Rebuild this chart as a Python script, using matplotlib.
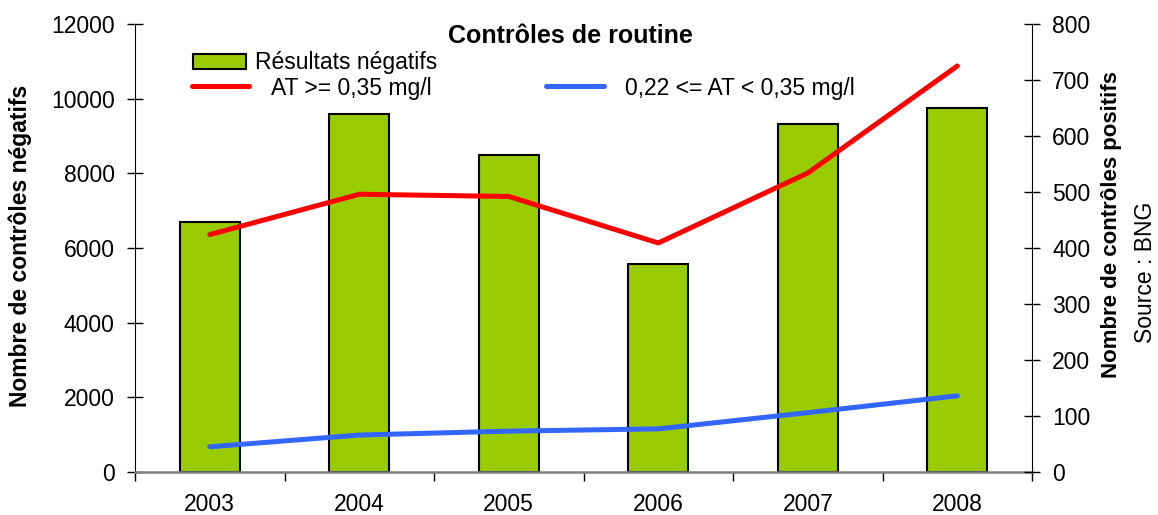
import numpy as np
import matplotlib
matplotlib.use("Agg")
from matplotlib import pyplot as plt
from matplotlib.patches import Patch
from matplotlib.lines import Line2D

years = ["2003", "2004", "2005", "2006", "2007", "2008"]
negatifs = [6700, 9580, 8480, 5560, 9320, 9740]
at_high = [424, 496, 492, 409, 534, 725]
at_mid = [45, 66, 73, 77, 106, 136]

plt.rcParams['font.family'] = ['Liberation Sans', 'DejaVu Sans']

fig = plt.figure(figsize=(11.58, 5.15), dpi=100)
ax = fig.add_axes([135 / 1158, 1 - 472 / 515, (1032 - 135) / 1158, (472 - 24) / 515])
ax2 = ax.twinx()

x = np.arange(len(years))
ax.bar(x, negatifs, width=0.4, color='#99CC00', edgecolor='black', linewidth=1.5, zorder=2)
ax2.plot(x, at_high, color='#FF0000', linewidth=3.6, solid_capstyle='round', zorder=3)
ax2.plot(x, at_mid, color='#3366FF', linewidth=3.6, solid_capstyle='round', zorder=3)

ax.set_xlim(-0.5, 5.5)
ax.set_ylim(0, 12000)
ax2.set_ylim(0, 800)
ax.set_yticks(np.arange(0, 12001, 2000))
ax2.set_yticks(np.arange(0, 801, 100))
ax.set_xticks(x)
ax.set_xticklabels(years)
ax.set_xticks(np.arange(-0.5, 6, 1), minor=True)
ax.tick_params(axis='x', which='major', length=0, pad=15, labelsize=16.5)
ax.tick_params(axis='x', which='minor', direction='out', length=6.5, width=1)
ax.tick_params(axis='y', direction='inout', length=11, width=1, pad=9, labelsize=16.5)
ax2.tick_params(axis='y', direction='inout', length=11, width=1, pad=9, labelsize=16.5)

for a in (ax, ax2):
    a.spines['top'].set_visible(False)
ax.spines['bottom'].set_color('#808080')
ax.spines['bottom'].set_linewidth(1.8)
ax2.spines['bottom'].set_visible(False)
ax.spines['right'].set_visible(False)
ax2.spines['left'].set_visible(False)

fig.text(20 / 1158, 1 - 246 / 515, "Nombre de contrôles négatifs", rotation=90,
         ha='center', va='center', fontsize=16.5, fontweight='bold')
fig.text(1112 / 1158, 1 - 225 / 515, "Nombre de contrôles positifs", rotation=90,
         ha='center', va='center', fontsize=16, fontweight='bold')
fig.text(1145 / 1158, 1 - 272 / 515, "Source : BNG", rotation=90,
         ha='center', va='center', fontsize=16.5)
fig.text(570 / 1158, 1 - 36 / 515, "Contrôles de routine", ha='center', va='center',
         fontsize=18, fontweight='bold')

leg1 = fig.legend(handles=[Patch(facecolor='#99CC00', edgecolor='black', linewidth=1.5)],
                  labels=["Résultats négatifs"], frameon=False, fontsize=16.5,
                  loc='center left', bbox_to_anchor=(193 / 1158, 1 - 63 / 515),
                  handlelength=2.3, handleheight=0.65, handletextpad=0.4,
                  borderpad=0, borderaxespad=0)
leg2 = fig.legend(handles=[Line2D([], [], color='#FF0000', linewidth=3.6, solid_capstyle='round'),
                           Line2D([], [], color='#3366FF', linewidth=3.6, solid_capstyle='round')],
                  labels=["AT >= 0,35 mg/l", "0,22 <= AT < 0,35 mg/l"], ncol=2,
                  frameon=False, fontsize=16.5, loc='center left',
                  bbox_to_anchor=(192 / 1158, 1 - 88 / 515),
                  handlelength=2.5, handletextpad=0.95, columnspacing=5.0,
                  borderpad=0, borderaxespad=0)

fig.savefig("out.png", dpi=100)
